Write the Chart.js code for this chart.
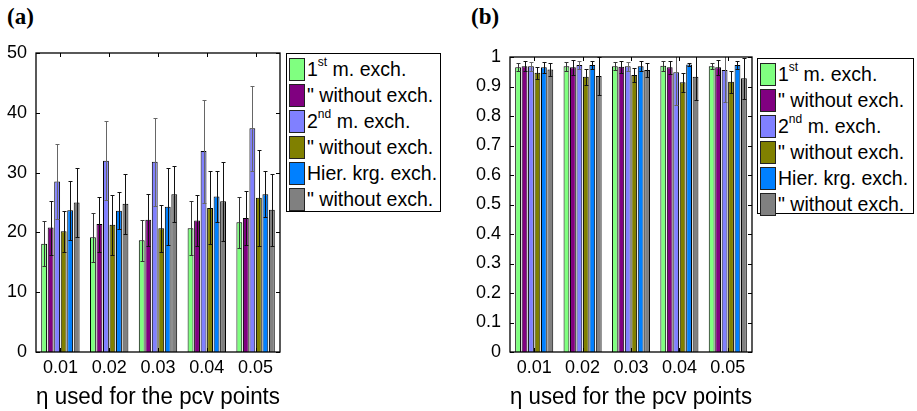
<!DOCTYPE html>
<html>
<head>
<meta charset="utf-8">
<script src="https://cdn.jsdelivr.net/npm/chart.js@4.4.1/dist/chart.umd.min.js"></script>
<style>
  body { margin: 0; background: #fff; width: 917px; height: 411px; position: relative; overflow: hidden;
         font-family: "Liberation Sans", Arial, Helvetica, sans-serif; }
  canvas { position: absolute; top: 0; }
  .panel-tag { position: absolute; top: 4px; font-family: "Liberation Serif", "Times New Roman", serif;
               font-weight: bold; font-size: 23px; }
  .legend { position: absolute; border: 1px solid #000; background: #fff; box-sizing: border-box; padding: 2px 0 0 2px; }
  .legend .row { height: 26px; display: flex; align-items: center; font-size: 19.5px; white-space: nowrap; color: #000; }
  .legend .swatch { width: 16px; height: 23px; border: 1px solid #222; box-sizing: border-box; margin-right: 2px; flex: none; }
  .legend sup { font-size: 12px; position: relative; top: -2px; }
</style>
</head>
<body>
<div class="panel-tag" style="left:7px">(a)</div>
<div class="panel-tag" style="left:471px">(b)</div>
<canvas id="chartA" width="285" height="411" style="left:0"></canvas>
<canvas id="chartB" width="292" height="411" style="left:465px"></canvas>
<div class="legend" id="legendA" style="left:286px; top:53px; width:155px; height:159px"></div>
<div class="legend" id="legendB" style="left:757px; top:58px; width:157px; height:156px"></div>

<script>
// eta values on the x axis
const etaLabels = ["0.01", "0.02", "0.03", "0.04", "0.05"];

// legend entries (html so the ordinals get superscripts)
const seriesNames = [
  "1<sup>st</sup> m. exch.",
  "\" without exch.",
  "2<sup>nd</sup> m. exch.",
  "\" without exch.",
  "Hier. krg. exch.",
  "\" without exch."
];
const seriesColors = ["#80ff80", "#800080", "#8080ff", "#808000", "#0080ff", "#808080"];
const errColors = ["#333", "#111", "#666", "#111", "#111", "#111"];

// panel (a): means
const firstExchA    = [18.1, 19.2, 18.7, 20.7, 21.7];
const firstNoExchA  = [20.8, 21.4, 22.1, 22.0, 22.4];
const secondExchA   = [28.5, 32.0, 31.8, 33.6, 37.4];
const secondNoExchA = [20.2, 21.3, 20.7, 24.1, 25.8];
const hierExchA     = [23.7, 23.6, 24.3, 26.0, 26.4];
const hierNoExchA   = [25.0, 24.8, 26.4, 25.2, 23.8];
// panel (a): error half-widths
const firstExchErrA    = [3.8, 4.1, 3.4, 4.5, 4.3];
const firstNoExchErrA  = [4.5, 4.6, 4.3, 4.3, 4.5];
const secondExchErrA   = [6.2, 6.6, 7.4, 8.6, 7.1];
const secondNoExchErrA = [3.4, 5.0, 3.9, 6.1, 8.0];
const hierExchErrA     = [4.9, 3.1, 6.4, 4.2, 3.8];
const hierNoExchErrA   = [5.8, 5.0, 4.7, 6.6, 6.0];

// panel (b): means
const firstExchB    = [0.965, 0.969, 0.969, 0.970, 0.969];
const firstNoExchB  = [0.969, 0.965, 0.967, 0.965, 0.965];
const secondExchB   = [0.969, 0.973, 0.969, 0.948, 0.956];
const secondNoExchB = [0.947, 0.933, 0.939, 0.914, 0.916];
const hierExchB     = [0.965, 0.973, 0.969, 0.975, 0.973];
const hierNoExchB   = [0.958, 0.936, 0.956, 0.933, 0.928];
// panel (b): error half-widths
const firstExchErrB    = [0.013, 0.015, 0.013, 0.017, 0.010];
const firstNoExchErrB  = [0.018, 0.025, 0.020, 0.022, 0.025];
const secondExchErrB   = [0.015, 0.012, 0.015, 0.110, 0.110];
const secondNoExchErrB = [0.020, 0.028, 0.023, 0.033, 0.038];
const hierExchErrB     = [0.019, 0.013, 0.018, 0.005, 0.015];
const hierNoExchErrB   = [0.021, 0.065, 0.025, 0.080, 0.070];

const fontFamily = "'Liberation Sans', Arial, Helvetica, sans-serif";

// draws error bars, then the box frame with inward ticks (matlab look)
const boxAndErrors = {
  id: "boxAndErrors",
  afterDatasetsDraw(chart) {
    const ctx = chart.ctx;
    const area = chart.chartArea;
    const yScale = chart.scales.y;
    ctx.save();
    ctx.beginPath();
    ctx.rect(area.left, area.top, area.right - area.left, area.bottom - area.top);
    ctx.clip();
    chart.data.datasets.forEach((ds, i) => {
      const meta = chart.getDatasetMeta(i);
      ctx.strokeStyle = ds.errColor;
      ctx.lineWidth = 1;
      meta.data.forEach((bar, j) => {
        const v = ds.data[j], e = ds.errors[j];
        const yTop = Math.round(yScale.getPixelForValue(v + e)) + 0.5;
        const yBot = Math.round(yScale.getPixelForValue(v - e)) + 0.5;
        const x = Math.round(bar.x) + 0.5;
        ctx.beginPath();
        ctx.moveTo(x, yTop); ctx.lineTo(x, yBot);
        ctx.moveTo(x - 2, yTop); ctx.lineTo(x + 2, yTop);
        ctx.moveTo(x - 2, yBot); ctx.lineTo(x + 2, yBot);
        ctx.stroke();
      });
    });
    ctx.restore();
  },
  afterDraw(chart) {
    const ctx = chart.ctx;
    const a = chart.chartArea;
    const xs = chart.scales.x, ys = chart.scales.y;
    ctx.save();
    ctx.strokeStyle = "#000";
    ctx.lineWidth = 1.3;
    ctx.strokeRect(a.left, a.top, a.right - a.left, a.bottom - a.top);
    ctx.lineWidth = 1;
    ctx.beginPath();
    xs.ticks.forEach((t, i) => {
      const x = Math.round(xs.getPixelForTick(i)) + 0.5;
      ctx.moveTo(x, a.bottom); ctx.lineTo(x, a.bottom - 4);
      ctx.moveTo(x, a.top); ctx.lineTo(x, a.top + 4);
    });
    ys.ticks.forEach((t, i) => {
      const y = Math.round(ys.getPixelForTick(i)) + 0.5;
      ctx.moveTo(a.left, y); ctx.lineTo(a.left + 4, y);
      ctx.moveTo(a.right, y); ctx.lineTo(a.right - 4, y);
    });
    ctx.stroke();
    ctx.restore();
  }
};

function makeDatasets(values, errors) {
  return values.map((vals, i) => ({
    label: seriesNames[i],
    data: vals,
    errors: errors[i],
    errColor: errColors[i],
    backgroundColor: seriesColors[i],
    borderColor: "#000",
    borderWidth: 1,
    barPercentage: 0.9,
    categoryPercentage: 0.8
  }));
}

function drawPanel(canvasId, datasets, yMax, yStep, axisWidth, topPad, rightPad) {
  return new Chart(document.getElementById(canvasId), {
    type: "bar",
    data: { labels: etaLabels, datasets: datasets },
    options: {
      responsive: false,
      animation: false,
      devicePixelRatio: 1,
      layout: { padding: { top: topPad, right: rightPad, left: 0, bottom: 0 } },
      plugins: { legend: { display: false }, tooltip: { enabled: false } },
      scales: {
        x: {
          grid: { display: false, drawTicks: false },
          border: { display: false },
          ticks: { color: "#000", font: { family: fontFamily, size: 18 }, padding: 5 },
          title: {
            display: true,
            text: "\u03b7 used for the pcv points",
            color: "#000",
            font: { family: fontFamily, size: 23 },
            padding: { top: 0, bottom: 0 }
          },
          afterFit(scale) { scale.height = 59; }
        },
        y: {
          min: 0,
          max: yMax,
          grid: { display: false, drawTicks: false },
          border: { display: false },
          ticks: {
            stepSize: yStep,
            color: "#000",
            font: { family: fontFamily, size: 18 },
            padding: 9,
            callback: (v) => String(+v.toFixed(1))
          },
          afterFit(scale) { scale.width = axisWidth; }
        }
      }
    },
    plugins: [boxAndErrors]
  });
}

drawPanel("chartA",
  makeDatasets(
    [firstExchA, firstNoExchA, secondExchA, secondNoExchA, hierExchA, hierNoExchA],
    [firstExchErrA, firstNoExchErrA, secondExchErrA, secondNoExchErrA, hierExchErrA, hierNoExchErrA]),
  50, 10, 36, 53, 5);

drawPanel("chartB",
  makeDatasets(
    [firstExchB, firstNoExchB, secondExchB, secondNoExchB, hierExchB, hierNoExchB],
    [firstExchErrB, firstNoExchErrB, secondExchErrB, secondNoExchErrB, hierExchErrB, hierNoExchErrB]),
  1, 0.1, 45, 57, 5);

// html legends
function fillLegend(id) {
  const box = document.getElementById(id);
  seriesNames.forEach((name, i) => {
    const row = document.createElement("div");
    row.className = "row";
    row.innerHTML = `<span class="swatch" style="background-color:${seriesColors[i]}"></span><span>${name}</span>`;
    box.appendChild(row);
  });
}
fillLegend("legendA");
fillLegend("legendB");
</script>
</body>
</html>
